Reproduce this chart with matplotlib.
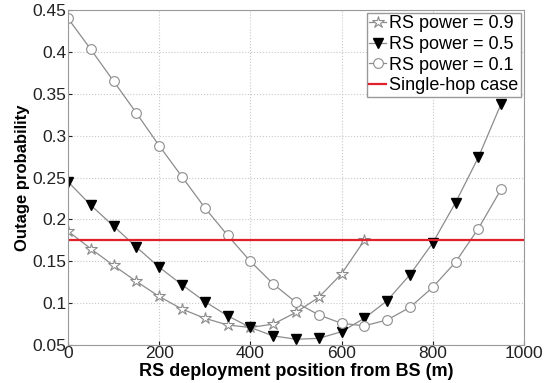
import numpy as np
import matplotlib
matplotlib.use('Agg')
import matplotlib.pyplot as plt

plt.rcParams['font.family'] = ['Liberation Sans', 'DejaVu Sans']

# positions (m)
x_all = np.arange(0, 1000, 50)
x_09 = np.arange(0, 700, 50)

p09 = [0.186, 0.165, 0.145, 0.126, 0.108, 0.093, 0.082, 0.074, 0.071, 0.075,
       0.089, 0.107, 0.135, 0.175]
p05 = [0.245, 0.217, 0.192, 0.167, 0.143, 0.122, 0.102, 0.085, 0.071, 0.061,
       0.057, 0.058, 0.066, 0.082, 0.103, 0.134, 0.172, 0.220, 0.274, 0.338]
p01 = [0.440, 0.403, 0.365, 0.327, 0.288, 0.251, 0.214, 0.181, 0.150, 0.123,
       0.101, 0.086, 0.076, 0.073, 0.080, 0.095, 0.119, 0.149, 0.189, 0.236]
single_hop = 0.176

fig = plt.figure(figsize=(5.55, 3.83), dpi=100)
ax = fig.add_axes([0.1225, 0.099, 0.8215, 0.875])

lc = '#8c8c8c'
ax.plot(x_09, p09, '-', color=lc, lw=0.9, marker='*', ms=9, mfc='white',
        mec='#8c8c8c', mew=0.8, label='RS power = 0.9')
ax.plot(x_all, p05, '-', color=lc, lw=0.9, marker='v', ms=7, mfc='black',
        mec='black', label='RS power = 0.5')
ax.plot(x_all, p01, '-', color=lc, lw=0.9, marker='o', ms=7, mfc='white',
        mec='#8c8c8c', mew=0.8, label='RS power = 0.1')
ax.axhline(single_hop, color='#e0202a', lw=1.6, label='Single-hop case')

ax.set_xlim(0, 1000)
ax.set_ylim(0.05, 0.45)
ax.set_xticks([0, 200, 400, 600, 800, 1000])
ax.set_yticks([0.05, 0.1, 0.15, 0.2, 0.25, 0.3, 0.35, 0.4, 0.45])
ax.set_yticklabels(['0.05', '0.1', '0.15', '0.2', '0.25', '0.3', '0.35', '0.4', '0.45'])
ax.grid(True, color='#c8c8c8', ls=':', lw=0.8)
ax.tick_params(labelsize=12.5, direction='in', length=3, pad=1, colors='#222222')
for s in ax.spines.values():
    s.set_color('#999999')

ax.set_xlabel('RS deployment position from BS (m)', fontsize=13, fontweight='bold', labelpad=1)
ax.set_ylabel('Outage probability', fontsize=12, fontweight='bold', labelpad=2)

leg = ax.legend(loc='upper right', fontsize=13, handlelength=0.9, handletextpad=0.2,
                borderpad=0.15, labelspacing=0.2, borderaxespad=0.15, fancybox=False,
                framealpha=1)
leg.get_frame().set_edgecolor('#999999')

fig.savefig('out.png', dpi=100)
